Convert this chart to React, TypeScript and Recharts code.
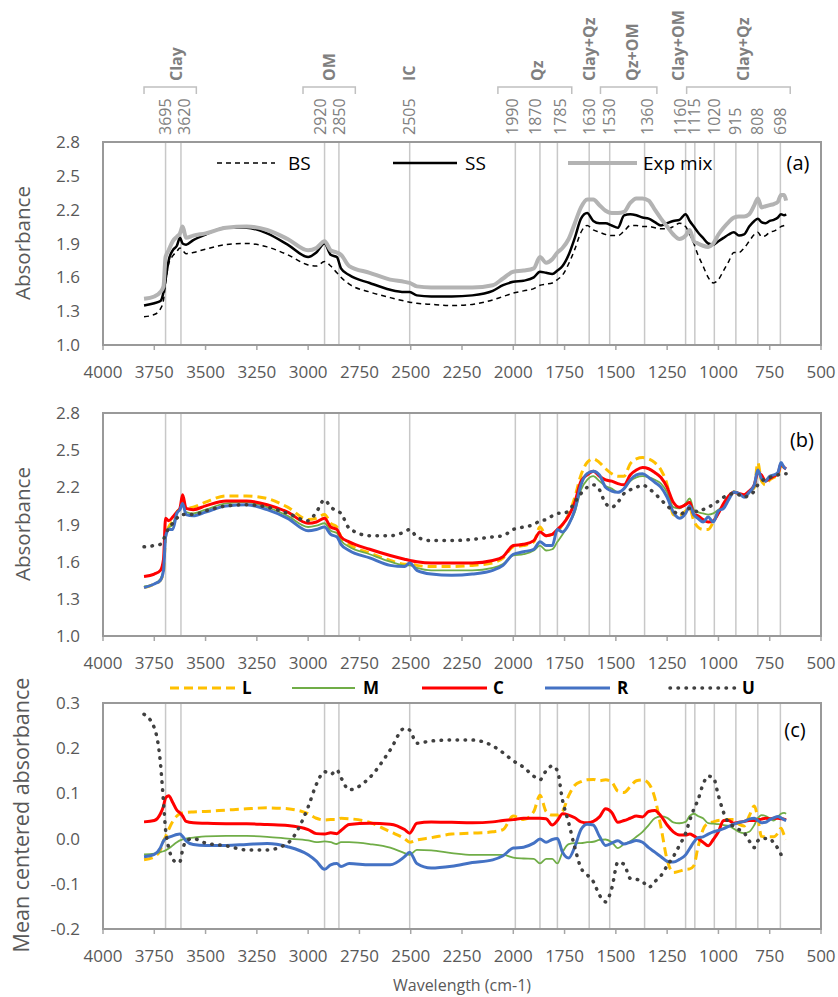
import { LineChart, Line, XAxis, YAxis, ReferenceLine } from "recharts";

// wavenumbers (cm-1) shared by every series
const WAVENUMBER = [
  3800, 3750, 3720, 3705, 3695, 3680, 3660, 3640, 3625, 3612,
  3595, 3560, 3500, 3400, 3300, 3200, 3100, 3000, 2960, 2920,
  2890, 2860, 2840, 2800, 2700, 2600, 2530, 2505, 2470, 2400,
  2300, 2200, 2100, 2050, 2000, 1950, 1900, 1870, 1840, 1810,
  1785, 1760, 1730, 1700, 1670, 1640, 1610, 1580, 1550, 1520,
  1490, 1460, 1430, 1400, 1370, 1340, 1310, 1280, 1250, 1220,
  1190, 1160, 1140, 1120, 1100, 1075, 1050, 1025, 1000, 975,
  950, 925, 900, 875, 850, 825, 808, 790, 770, 750,
  730, 710, 695, 680, 670,
];

// (a) absorbance
const BS = [
  1.25, 1.27, 1.32, 1.4, 1.55, 1.72, 1.79, 1.83, 1.86, 1.84,
  1.81, 1.82, 1.85, 1.89, 1.9, 1.87, 1.8, 1.71, 1.7, 1.74,
  1.7, 1.64, 1.6, 1.54, 1.47, 1.42, 1.39, 1.38, 1.37, 1.36,
  1.35, 1.36, 1.4, 1.43, 1.46, 1.48, 1.5, 1.53, 1.54, 1.55,
  1.58, 1.62, 1.72, 1.85, 2.0, 2.06, 2.02, 2.0, 1.98, 1.97,
  1.97, 2.01, 2.06, 2.06, 2.05, 2.05, 2.04, 2.03, 2.03, 2.05,
  2.08, 2.05, 1.98, 1.9, 1.8, 1.7, 1.6, 1.55, 1.58, 1.66,
  1.74, 1.82, 1.82, 1.86, 1.92, 1.98, 2.0, 1.96, 1.97, 2.0,
  2.01, 2.03, 2.05, 2.06, 2.07,
];
const SS = [
  1.35, 1.37, 1.39, 1.47, 1.58, 1.75, 1.84, 1.88, 1.95, 1.9,
  1.89, 1.93, 1.98, 2.04, 2.04, 1.99, 1.89, 1.78, 1.82, 1.9,
  1.8, 1.78, 1.68, 1.62, 1.55, 1.49, 1.47, 1.47, 1.44, 1.43,
  1.43, 1.44, 1.48, 1.53, 1.56, 1.57, 1.6, 1.65, 1.64, 1.63,
  1.66, 1.7, 1.8, 1.95, 2.12, 2.17, 2.1, 2.08, 2.08, 2.06,
  2.04, 2.15, 2.16, 2.15, 2.13, 2.12, 2.09, 2.06, 2.08, 2.1,
  2.11, 2.16, 2.1, 2.05, 2.0, 1.95, 1.9, 1.89, 1.92, 1.95,
  1.98, 2.0, 1.97, 1.98, 2.05, 2.1, 2.12, 2.09, 2.08, 2.1,
  2.11, 2.13, 2.16, 2.15, 2.16,
];
const EXP_MIX = [
  1.41, 1.43, 1.47, 1.52, 1.78, 1.84, 1.92, 1.96, 1.99, 2.05,
  1.95, 1.97, 1.99, 2.04, 2.05, 2.02, 1.94, 1.84, 1.86, 1.92,
  1.84, 1.82, 1.8, 1.7, 1.64, 1.58, 1.56, 1.55, 1.52, 1.51,
  1.51, 1.51, 1.53, 1.59, 1.65, 1.66, 1.68, 1.78, 1.73, 1.76,
  1.82, 1.86, 1.94, 2.08, 2.22, 2.29, 2.29, 2.24, 2.19, 2.17,
  2.17, 2.18, 2.26, 2.3, 2.3, 2.28, 2.2, 2.12, 2.05, 1.98,
  1.94, 1.97, 2.02, 1.92, 1.9, 1.88, 1.87, 1.9, 1.98, 2.04,
  2.09, 2.13, 2.14, 2.14, 2.16, 2.24, 2.3, 2.22, 2.23, 2.24,
  2.25, 2.27, 2.33, 2.33, 2.28,
];

// (b) absorbance by group
const ABS_L = [
  1.39, 1.42, 1.45, 1.52, 1.8, 1.88, 1.93, 2.0, 2.03, 2.08,
  2.03, 2.04, 2.08, 2.13, 2.13, 2.11, 2.04, 1.94, 1.95, 1.98,
  1.91, 1.88, 1.8, 1.74, 1.67, 1.61, 1.58, 1.58, 1.57, 1.56,
  1.56, 1.57, 1.59, 1.63, 1.72, 1.73, 1.76, 1.88, 1.81, 1.82,
  1.84, 1.9, 1.98, 2.12, 2.3, 2.4, 2.43, 2.4, 2.35, 2.31,
  2.29, 2.29, 2.39, 2.43, 2.44, 2.43, 2.4, 2.34, 2.22, 1.98,
  1.97, 2.01, 2.03, 1.93, 1.88, 1.86, 1.86, 1.92, 2.0, 2.06,
  2.12, 2.16, 2.15, 2.13, 2.16, 2.2, 2.4, 2.25, 2.22, 2.26,
  2.28, 2.3, 2.37, 2.36, 2.35,
];
const ABS_M = [
  1.4, 1.42, 1.46, 1.54, 1.82, 1.87, 1.9, 1.99, 2.02, 2.06,
  2.0, 1.99, 2.02, 2.07, 2.08, 2.04, 1.97, 1.88, 1.89, 1.91,
  1.85, 1.83, 1.77, 1.72, 1.66, 1.6, 1.57, 1.57, 1.55, 1.53,
  1.53, 1.53, 1.55, 1.58, 1.65, 1.66, 1.69, 1.73, 1.69, 1.7,
  1.76, 1.82, 1.9, 2.0, 2.18, 2.26, 2.29, 2.25, 2.21, 2.19,
  2.16, 2.19, 2.25, 2.28, 2.29, 2.28, 2.26, 2.23, 2.16, 2.04,
  2.03, 2.07, 2.11, 2.02, 2.0, 1.99, 1.98, 1.99, 2.02, 2.05,
  2.11, 2.17, 2.15, 2.13, 2.16, 2.2, 2.33, 2.27, 2.26, 2.29,
  2.3, 2.32, 2.39, 2.36, 2.35,
];
const ABS_C = [
  1.48, 1.5, 1.53, 1.62, 1.95, 1.93, 1.96, 2.0, 2.03, 2.14,
  2.03, 2.02, 2.05, 2.09, 2.09, 2.06, 2.0, 1.91, 1.92, 1.95,
  1.88, 1.86, 1.8, 1.76, 1.7, 1.65, 1.62, 1.61, 1.6, 1.59,
  1.59, 1.59, 1.61, 1.64, 1.73, 1.74, 1.77, 1.84, 1.81, 1.82,
  1.86, 1.9, 1.97, 2.08, 2.25, 2.3, 2.33, 2.29, 2.26, 2.25,
  2.23, 2.22, 2.3, 2.34, 2.36, 2.35, 2.32, 2.28, 2.2, 2.08,
  2.04, 2.06, 2.08, 1.98, 1.97, 1.94, 1.92, 1.93, 1.99, 2.07,
  2.13, 2.16, 2.15, 2.14, 2.17, 2.22, 2.32, 2.3, 2.25, 2.27,
  2.29, 2.31, 2.39, 2.36, 2.35,
];
const ABS_R = [
  1.39, 1.42, 1.45, 1.53, 1.8, 1.86, 1.86, 1.99, 2.02, 2.07,
  1.98, 1.97, 2.0, 2.05, 2.06, 2.02, 1.95, 1.85, 1.86, 1.88,
  1.82, 1.8, 1.74, 1.69, 1.63, 1.57, 1.56, 1.59, 1.53, 1.5,
  1.49, 1.5, 1.53, 1.57, 1.66, 1.68, 1.7, 1.76, 1.73, 1.73,
  1.86, 1.84, 1.9, 2.02, 2.22, 2.31, 2.33, 2.3, 2.2, 2.17,
  2.16, 2.19, 2.26, 2.3, 2.31, 2.28, 2.24, 2.2, 2.12, 2.0,
  1.95, 1.99, 2.05, 1.98, 1.95, 1.92, 1.96, 1.92, 2.01, 2.03,
  2.1, 2.16, 2.15, 2.12, 2.16, 2.22, 2.34, 2.27, 2.25, 2.29,
  2.3, 2.32, 2.4, 2.36, 2.35,
];
const ABS_U = [
  1.72, 1.73, 1.74, 1.78, 1.82, 1.87, 1.91, 1.95, 1.98, 1.98,
  1.98, 1.98, 2.01, 2.05, 2.06, 2.04, 1.99, 1.93, 2.0, 2.1,
  2.04, 2.01, 1.99, 1.87, 1.81, 1.81, 1.84, 1.86, 1.8, 1.77,
  1.77, 1.78, 1.8, 1.81, 1.86, 1.88, 1.9, 1.93, 1.94, 1.97,
  1.99, 1.99, 2.01, 2.08, 2.15, 2.2, 2.22, 2.18, 2.07, 2.04,
  2.08, 2.15, 2.18, 2.2, 2.22, 2.19, 2.15, 2.1, 2.05, 2.01,
  1.98, 2.01, 2.03, 2.02, 2.0, 2.02, 2.04, 2.06, 2.09, 2.12,
  2.14, 2.15, 2.14, 2.12, 2.14, 2.17, 2.22, 2.25, 2.27, 2.28,
  2.29, 2.3, 2.31, 2.31, 2.31,
];

// (c) mean centered absorbance by group
const MC_L = [
  -0.047, -0.04, -0.025, -0.005, 0.004, 0.02, 0.038, 0.05, 0.055, 0.057,
  0.058, 0.059, 0.06, 0.063, 0.066, 0.068, 0.066, 0.055, 0.045, 0.041,
  0.042, 0.042, 0.045, 0.044, 0.036, 0.015, 0.0, -0.008, -0.003, 0.002,
  0.01, 0.012, 0.015, 0.02, 0.05, 0.042, 0.06, 0.096, 0.06, 0.052,
  0.052, 0.06, 0.095, 0.118, 0.126, 0.13, 0.131, 0.128, 0.13, 0.125,
  0.105, 0.102, 0.115, 0.128, 0.13, 0.122, 0.09, 0.025, -0.047, -0.075,
  -0.072, -0.068, -0.067, -0.06, -0.02, 0.02, 0.034, 0.037, 0.04, 0.041,
  0.042, 0.042, 0.032, 0.028, 0.05, 0.072, 0.045, 0.005, 0.004, 0.004,
  0.004, 0.012, 0.023, 0.008, -0.002,
];
const MC_M = [
  -0.035, -0.033, -0.03, -0.028, -0.026, -0.022, -0.015, -0.008, -0.004, -0.002,
  0.0, 0.002, 0.005, 0.006, 0.006, 0.004, 0.0, -0.004, -0.008, -0.006,
  -0.008, -0.012, -0.008, -0.008, -0.012, -0.02, -0.032, -0.036, -0.025, -0.026,
  -0.032, -0.036, -0.036, -0.036, -0.042, -0.044, -0.045, -0.055, -0.045, -0.045,
  -0.055, -0.03, -0.012, -0.01, -0.01, -0.008, -0.007, -0.003, -0.002, -0.008,
  -0.021, -0.012, -0.006, 0.004, 0.015, 0.03, 0.045, 0.049, 0.046, 0.036,
  0.034, 0.037, 0.05, 0.055, 0.05, 0.045, 0.034, 0.033, 0.032, 0.03,
  0.028, 0.022, 0.015, 0.012, 0.015, 0.03, 0.045, 0.052, 0.05, 0.045,
  0.04, 0.048, 0.055, 0.057, 0.055,
];
const MC_C = [
  0.037, 0.04, 0.055, 0.072, 0.09, 0.095, 0.08, 0.063, 0.057, 0.05,
  0.038, 0.035, 0.034, 0.033, 0.033, 0.031, 0.029, 0.02, 0.011, 0.01,
  0.013, 0.011, 0.018, 0.031, 0.034, 0.032, 0.02, 0.012, 0.034, 0.037,
  0.036, 0.035, 0.037, 0.04, 0.042, 0.045, 0.045, 0.045, 0.044, 0.03,
  0.04, 0.055, 0.052, 0.046, 0.037, 0.035, 0.038, 0.048, 0.066, 0.058,
  0.036, 0.04, 0.045, 0.05, 0.048, 0.06, 0.062, 0.05, 0.03, 0.015,
  0.008, 0.008, 0.01, 0.006, 0.0, -0.008, -0.016, -0.002, 0.015, 0.04,
  0.04, 0.034, 0.036, 0.038, 0.04, 0.04, 0.041, 0.043, 0.045, 0.044,
  0.045, 0.045, 0.044, 0.043, 0.042,
];
const MC_R = [
  -0.04, -0.035, -0.02, -0.005, 0.0, 0.003, 0.006, 0.009, 0.01, 0.005,
  -0.005, -0.013, -0.015, -0.015, -0.013, -0.011, -0.018, -0.036, -0.05, -0.068,
  -0.058, -0.055, -0.062, -0.055, -0.058, -0.058, -0.04, -0.03, -0.055, -0.065,
  -0.061, -0.053, -0.047, -0.038, -0.021, -0.019, -0.01, -0.001, -0.008, -0.002,
  0.0, -0.03, -0.043, -0.018, 0.02, 0.032, 0.03, 0.005, -0.015, -0.01,
  -0.005, -0.012, -0.008, -0.004, -0.008, -0.02, -0.03, -0.04, -0.05, -0.052,
  -0.046, -0.036, -0.022, -0.008, 0.002, 0.004, 0.01, 0.015, 0.018, 0.022,
  0.027, 0.032, 0.036, 0.038, 0.043, 0.045, 0.04, 0.035, 0.036, 0.042,
  0.046, 0.049, 0.046, 0.042, 0.04,
];
const MC_U = [
  0.275, 0.245, 0.167, 0.08, 0.02, -0.02, -0.045, -0.053, -0.051, -0.025,
  -0.005, 0.0, -0.01, -0.016, -0.025, -0.025, -0.01, 0.07, 0.12, 0.148,
  0.142, 0.152, 0.135, 0.108, 0.135, 0.196, 0.244, 0.24, 0.211, 0.216,
  0.218, 0.218, 0.205, 0.19, 0.172, 0.158, 0.138, 0.13, 0.15, 0.161,
  0.15, 0.085, 0.035, -0.02, -0.065, -0.08, -0.095, -0.125, -0.14, -0.11,
  -0.052, -0.057, -0.088, -0.09, -0.095, -0.108, -0.095, -0.082, -0.06, -0.04,
  -0.015, 0.012, 0.04, 0.065, 0.085, 0.12, 0.138, 0.135, 0.095, 0.058,
  0.035, 0.027, 0.02, 0.013, -0.005, -0.02, -0.005, 0.0, 0.0, 0.0,
  -0.01, -0.022, -0.035, null, null,
];

// band positions marked by the vertical lines
const BAND_LINES = [3695, 3620, 2920, 2850, 2505, 1990, 1870, 1785, 1630, 1530, 1360, 1160, 1115, 1020, 915, 808, 698];
const BAND_GROUPS = [
  { label: "Clay", at: 3640, from: 3800, to: 3545 },
  { label: "OM", at: 2895, from: 3025, to: 2770 },
  { label: "IC", at: 2505 },
  { label: "Qz", at: 1880, from: 2075, to: 1715 },
  { label: "Clay+Qz", at: 1628 },
  { label: "Qz+OM", at: 1421, from: 1575, to: 1300 },
  { label: "Clay+OM", at: 1197 },
  { label: "Clay+Qz", at: 880, from: 1155, to: 650 },
];

const X_TICKS = [4000, 3750, 3500, 3250, 3000, 2750, 2500, 2250, 2000, 1750, 1500, 1250, 1000, 750, 500];
const ABS_TICKS = [1.0, 1.3, 1.6, 1.9, 2.2, 2.5, 2.8];
const MC_TICKS = [-0.2, -0.1, 0, 0.1, 0.2, 0.3];

const dataA = WAVENUMBER.map((wn, i) => ({ wn, bs: BS[i], ss: SS[i], exp: EXP_MIX[i] }));
const dataB = WAVENUMBER.map((wn, i) => ({ wn, L: ABS_L[i], M: ABS_M[i], C: ABS_C[i], R: ABS_R[i], U: ABS_U[i] }));
const dataC = WAVENUMBER.map((wn, i) => ({ wn, L: MC_L[i], M: MC_M[i], C: MC_C[i], R: MC_R[i], U: MC_U[i] }));

const FONT = "'Open Sans', sans-serif";
const PLOT_LEFT = 103;
const PLOT_RIGHT = 821;
const xOf = (wn: number) => PLOT_LEFT + ((4000 - wn) * (PLOT_RIGHT - PLOT_LEFT)) / 3500;
const LABEL_NUDGE: Record<number, number> = { 3620: 3, 2920: -4, 1990: -3, 1870: -5, 1785: 3, 1360: 3, 1160: -5 };

const tickStyle = { fill: "#595959", fontSize: 17, fontFamily: FONT };

const STYLES = {
  L: { stroke: "#ffc000", strokeWidth: 3, strokeDasharray: "9 5" },
  M: { stroke: "#70ad47", strokeWidth: 1.8 },
  C: { stroke: "#ff0000", strokeWidth: 3 },
  R: { stroke: "#4472c4", strokeWidth: 3 },
  U: { stroke: "#404040", strokeWidth: 3.5, strokeDasharray: "0.5 7.5", strokeLinecap: "round" as const },
};

function Panel({ top, height, marginTop, axisHeight, data, domain, ticks, children }: any) {
  return (
    <div style={{ position: "absolute", left: 0, top }}>
      <LineChart width={838} height={height} data={data} margin={{ top: marginTop, right: 17, bottom: 0, left: 43 }}>
        <XAxis
          dataKey="wn"
          type="number"
          domain={[500, 4000]}
          reversed
          ticks={X_TICKS}
          interval={0}
          allowDataOverflow
          height={axisHeight}
          axisLine={false}
          tickLine={{ stroke: "#a6a6a6", strokeWidth: 1.5 }}
          tickSize={5}
          tickMargin={16}
          tick={tickStyle}
        />
        <YAxis
          type="number"
          domain={domain}
          ticks={ticks}
          interval={0}
          allowDataOverflow
          width={60}
          axisLine={false}
          tickLine={false}
          tickSize={0}
          tickMargin={23}
          tick={tickStyle}
          tickFormatter={(v: number) => v.toFixed(1)}
        />
        {BAND_LINES.map((wn) => (
          <ReferenceLine key={wn} x={wn} stroke="#c8c8c8" strokeWidth={1.5} />
        ))}
        {children}
      </LineChart>
    </div>
  );
}

const groupLines = (keys: string[]) =>
  keys.map((k) => (
    <Line
      key={k}
      dataKey={k}
      type="monotone"
      dot={false}
      activeDot={false}
      isAnimationActive={false}
      {...(STYLES as any)[k]}
    />
  ));

export default function App() {
  return (
    <div style={{ position: "absolute", left: 0, top: 0, width: 838, height: 997, background: "#fff", fontFamily: FONT }}>
      <Panel top={0} height={400} marginTop={142} axisHeight={55} data={dataA} domain={[1, 2.8]} ticks={ABS_TICKS}>
        <Line dataKey="bs" type="monotone" stroke="#000" strokeWidth={1.5} strokeDasharray="5 4" dot={false} activeDot={false} isAnimationActive={false} />
        <Line dataKey="ss" type="monotone" stroke="#000" strokeWidth={2.5} dot={false} activeDot={false} isAnimationActive={false} />
        <Line dataKey="exp" type="monotone" stroke="#b3b3b3" strokeWidth={4} dot={false} activeDot={false} isAnimationActive={false} />
      </Panel>
      <Panel top={400} height={290} marginTop={13} axisHeight={54} data={dataB} domain={[1, 2.8]} ticks={ABS_TICKS}>
        {groupLines(["L", "M", "C", "R", "U"])}
      </Panel>
      <Panel top={690} height={307} marginTop={13} axisHeight={68} data={dataC} domain={[-0.2, 0.3]} ticks={MC_TICKS}>
        {groupLines(["L", "M", "C", "R", "U"])}
      </Panel>

      <svg width={838} height={997} style={{ position: "absolute", left: 0, top: 0, pointerEvents: "none" }} fontFamily={FONT}>
        {/* plot frames */}
        <rect x={PLOT_LEFT} y={142} width={PLOT_RIGHT - PLOT_LEFT} height={203} fill="none" stroke="#999" strokeWidth={2} />
        <rect x={PLOT_LEFT} y={413} width={PLOT_RIGHT - PLOT_LEFT} height={223} fill="none" stroke="#999" strokeWidth={2} />
        <rect x={PLOT_LEFT} y={703} width={PLOT_RIGHT - PLOT_LEFT} height={226} fill="none" stroke="#999" strokeWidth={2} />

        {/* band numbers */}
        {BAND_LINES.map((wn) => {
          const x = xOf(wn) + (LABEL_NUDGE[wn] || 0);
          return (
            <text key={wn} x={x} y={135} transform={`rotate(-90 ${x} 135)`} dy="0.35em" fontSize={16} fill="#808080">
              {wn}
            </text>
          );
        })}

        {/* band groups */}
        {BAND_GROUPS.map((g, i) => {
          const x = xOf(g.at);
          return (
            <g key={i}>
              {g.from !== undefined && (
                <path
                  d={`M${xOf(g.from)},94 L${xOf(g.from)},87 L${xOf(g.to!)},87 L${xOf(g.to!)},94`}
                  fill="none"
                  stroke="#c0c0c0"
                  strokeWidth={1.5}
                />
              )}
              <text x={x} y={81} transform={`rotate(-90 ${x} 81)`} dy="0.35em" fontSize={16} fontWeight="bold" fill="#808080">
                {g.label}
              </text>
            </g>
          );
        })}

        {/* legend (a) */}
        <line x1={217} y1={163} x2={275} y2={163} stroke="#000" strokeWidth={1.5} strokeDasharray="5 4" />
        <text x={288} y={163} dy="0.35em" fontSize={19} fill="#000">BS</text>
        <line x1={393} y1={163} x2={457} y2={163} stroke="#000" strokeWidth={2.5} />
        <text x={465} y={163} dy="0.35em" fontSize={19} fill="#000">SS</text>
        <line x1={568} y1={163} x2={637} y2={163} stroke="#b3b3b3" strokeWidth={4} />
        <text x={643} y={163} dy="0.35em" fontSize={19} fill="#000">Exp mix</text>

        {/* legend (c) */}
        {[
          { k: "L", x1: 170, x2: 235, tx: 242 },
          { k: "M", x1: 292, x2: 355, tx: 363 },
          { k: "C", x1: 422, x2: 487, tx: 493 },
          { k: "R", x1: 545, x2: 610, tx: 617 },
          { k: "U", x1: 670, x2: 735, tx: 742 },
        ].map((it) => (
          <g key={it.k}>
            <line x1={it.x1} y1={688} x2={it.x2} y2={688} {...(STYLES as any)[it.k]} />
            <text x={it.tx} y={688} dy="0.35em" fontSize={17} fontWeight="bold" fill="#000">{it.k}</text>
          </g>
        ))}

        {/* panel letters */}
        <text x={798} y={163} dy="0.35em" textAnchor="middle" fontSize={20} fill="#000">(a)</text>
        <text x={802} y={440} dy="0.35em" textAnchor="middle" fontSize={20} fill="#000">(b)</text>
        <text x={795} y={730} dy="0.35em" textAnchor="middle" fontSize={20} fill="#000">(c)</text>

        {/* axis titles */}
        <text x={23} y={243} dy="0.35em" transform="rotate(-90 23 243)" textAnchor="middle" fontSize={20.5} fill="#595959">Absorbance</text>
        <text x={23} y={524} dy="0.35em" transform="rotate(-90 23 524)" textAnchor="middle" fontSize={20.5} fill="#595959">Absorbance</text>
        <text x={21} y={815} dy="0.35em" transform="rotate(-90 21 815)" textAnchor="middle" fontSize={21.5} fill="#595959">Mean centered absorbance</text>
        <text x={462} y={985} dy="0.35em" textAnchor="middle" fontSize={16} fill="#595959">Wavelength (cm-1)</text>
      </svg>
    </div>
  );
}
